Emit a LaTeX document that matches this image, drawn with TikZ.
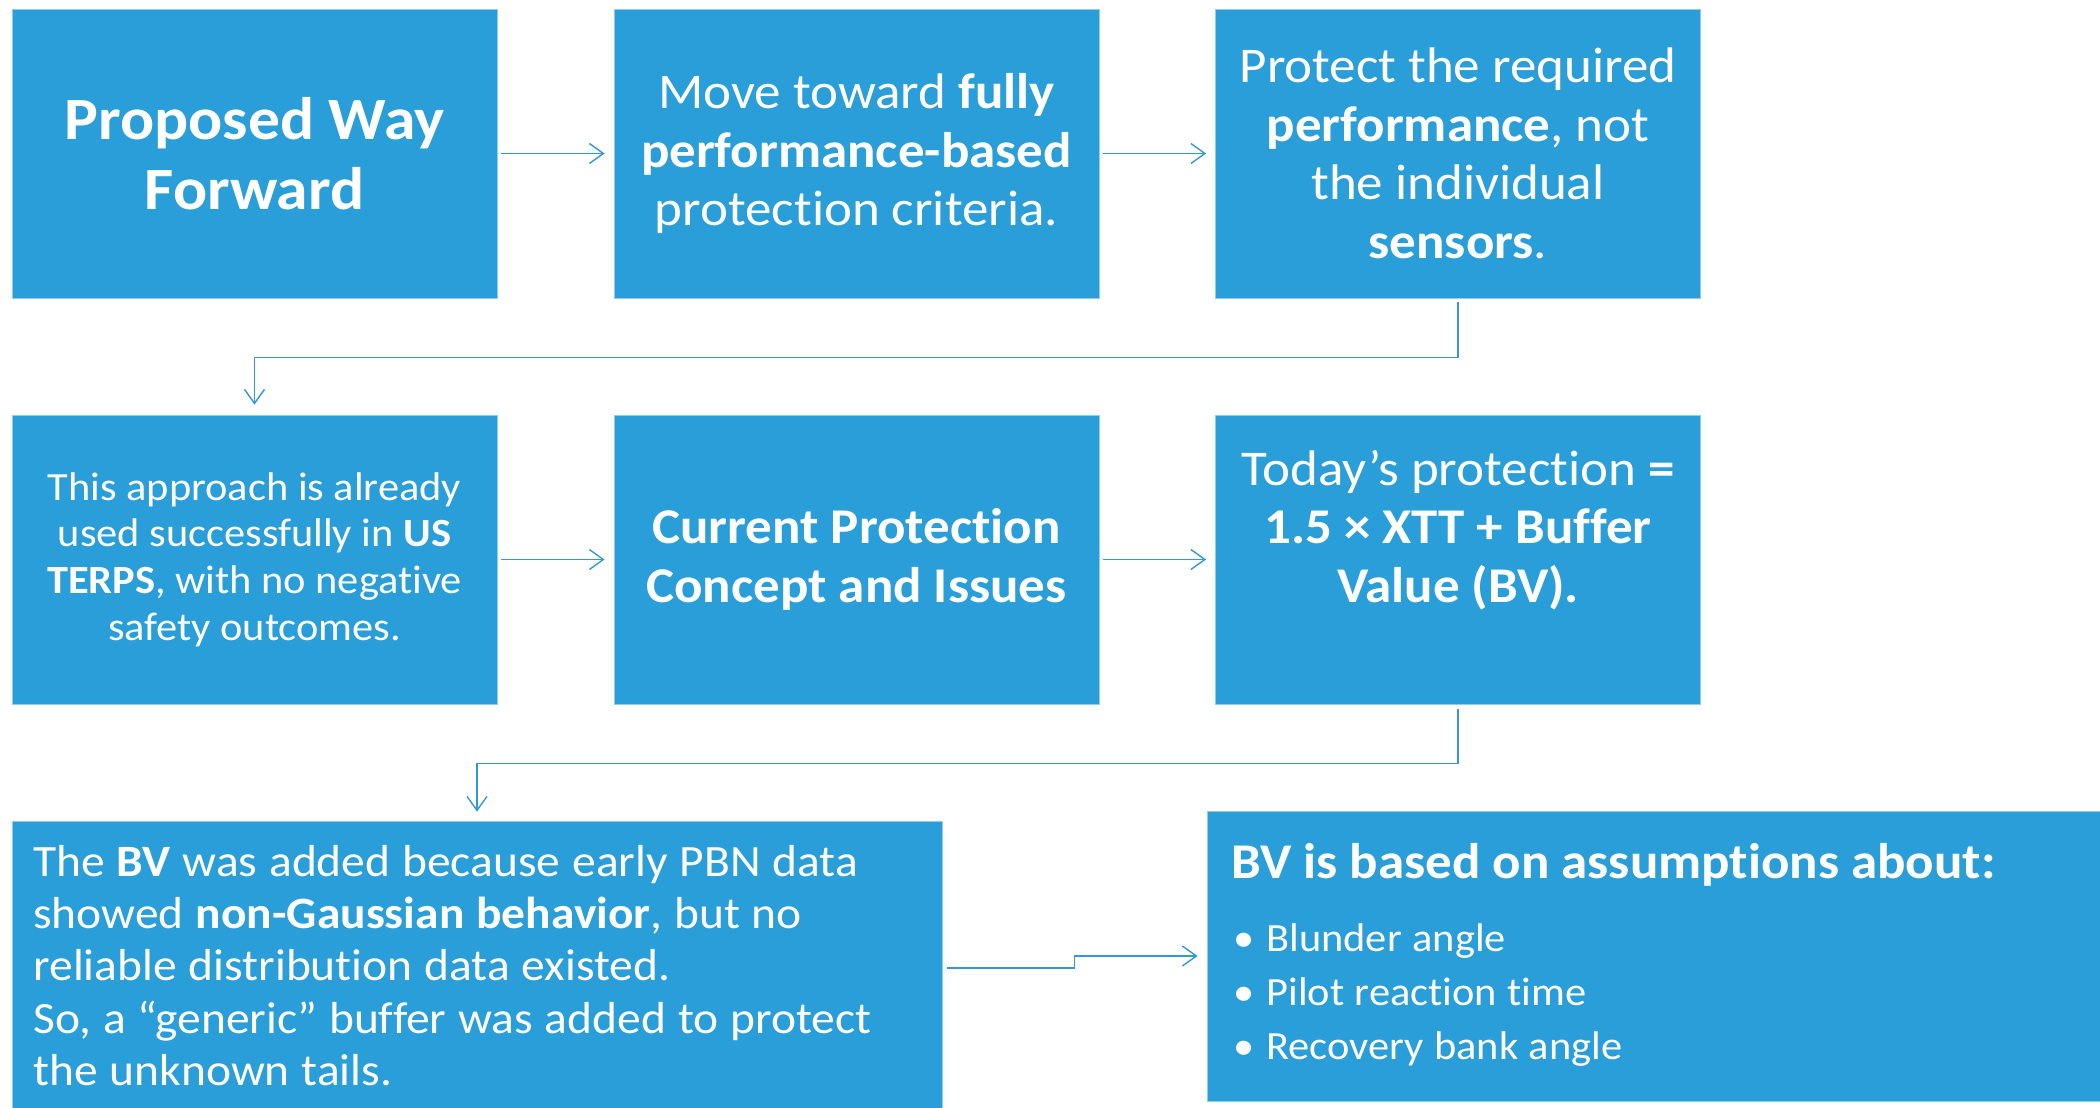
\documentclass[tikz,border=0pt]{standalone}
\usepackage{fontspec}
\setmainfont{Carlito}[FakeStretch=1.06, Ligatures=CommonOff]
\usetikzlibrary{arrows.meta,calc}
\definecolor{boxblue}{HTML}{2A9ED8}
\definecolor{linkblue}{HTML}{3497D6}
\definecolor{edgeblue}{HTML}{8FCDEE}
\begin{document}
\begin{tikzpicture}[x=0.5pt,y=-0.5pt,
  box/.style={rectangle, fill=boxblue, draw=edgeblue, line width=0.4pt,
    minimum width=242.5pt, minimum height=144.5pt, inner sep=0pt,
    text=white, align=center},
  bigbold/.style={font=\fontsize{30}{35}\selectfont\bfseries},
  midtext/.style={font=\fontsize{25}{29.3}\selectfont},
  smalltext/.style={font=\fontsize{20}{23.3}\selectfont},
  plaintext/.style={text=white, inner sep=0pt},
  conn/.style={draw=linkblue, line width=0.7pt,
    -{Straight Barb[length=7pt,width=10pt]}}
]
\useasboundingbox (0,0) rectangle (2100,1108);

% row 1
\node[box, bigbold] (b1) at (254.5,153.5) {Proposed Way\\Forward};
\node[box, midtext] (b2) at (856.5,153.5) {Move toward \textbf{fully}\\\textbf{performance-based}\\protection criteria.};
\node[box, midtext] (b3) at (1458,153.5) {Protect the required\\\textbf{performance}, not\\the individual\\\textbf{sensors}.};

% row 2
\node[box, smalltext] (b4) at (254.5,559.5) {This approach is already\\used successfully in \textbf{US}\\\textbf{TERPS}, with no negative\\safety outcomes.};
\node[box, font=\fontsize{25}{29.3}\selectfont\bfseries] (b5) at (856.5,559.5) {Current Protection\\Concept and Issues};
\node[box] (b6) at (1458,559.5) {};
\node[plaintext, midtext, align=center] (t6) at (1458,530) {Today’s protection \textbf{=}\\\textbf{1.5 × XTT + Buffer}\\\textbf{Value (BV).}};

% row 3
\node[box, minimum width=465pt, minimum height=147pt] (b7) at (477,968) {};
\node[plaintext, anchor=base west, text width=455pt, align=left,
  font=\fontsize{22.4}{26.2}\selectfont] (t7) at (33,876)
  {\spaceskip=0.265em\relax The \textbf{BV} was added because early PBN data\\
   showed \textbf{non-Gaussian behavior}, but no\\
   reliable distribution data existed.\\
   So, a “generic” buffer was added to protect\\
   the unknown tails.};

\node[box, minimum width=466.5pt, minimum height=145pt] (b8) at (1673.5,956) {};
\node[plaintext, anchor=base west, font=\fontsize{25}{29.3}\selectfont\bfseries] (h8) at (1231,878)
  {BV is based on assumptions about:};
\node[plaintext, anchor=base west, text width=300pt, align=left,
  font=\fontsize{20}{27}\selectfont] (l8) at (1233,951)
  {\spaceskip=0.265em\relax\makebox[16.5pt][l]{•}Blunder angle\\
   \makebox[16.5pt][l]{•}Pilot reaction time\\
   \makebox[16.5pt][l]{•}Recovery bank angle};

% connectors
\draw[conn, shorten <=2pt, shorten >=4.5pt] (b1.east) -- (b2.west);
\draw[conn, shorten <=2pt, shorten >=4.5pt] (b2.east) -- (b3.west);
\draw[conn, shorten <=2pt, shorten >=5pt] (b3.south) -- ++(0,59) -| (b4.north);
\draw[conn, shorten <=2pt, shorten >=4.5pt] (b4.east) -- (b5.west);
\draw[conn, shorten <=2pt, shorten >=4.5pt] (b5.east) -- (b6.west);
\draw[conn, shorten <=2.5pt, shorten >=4.5pt] (b6.south) -- ++(0,59) -| (b7.north);
\coordinate (m78) at ($(b7.east)!0.5!(b8.west)$);
\draw[conn, shorten <=2.5pt, shorten >=4.5pt] (b7.east) -| (m78) |- (b8.west);
\end{tikzpicture}
\end{document}
